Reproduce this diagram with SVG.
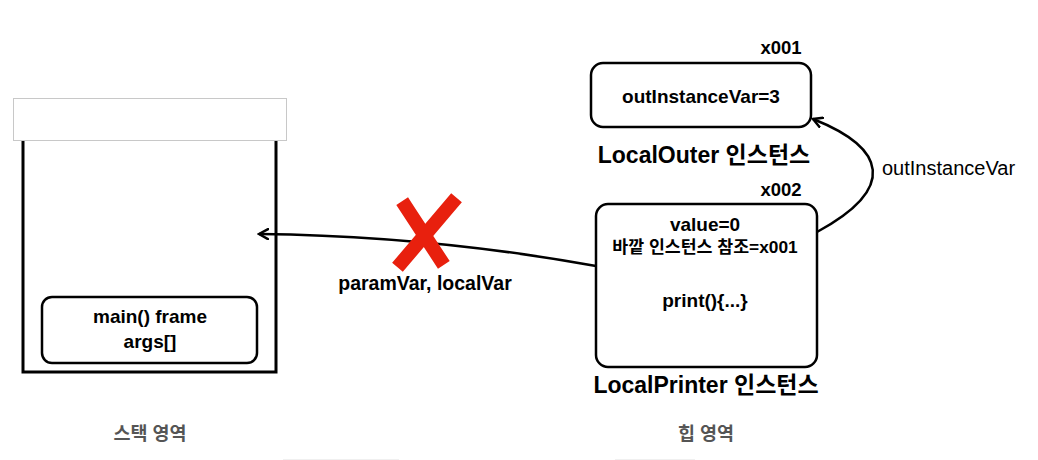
<svg xmlns="http://www.w3.org/2000/svg" width="1038" height="460" viewBox="0 0 1038 460">
<style>
text{font-family:"Liberation Sans",Arial,"Noto Sans CJK KR",sans-serif;fill:#000}
.b{font-weight:bold}
.box{fill:#fff;stroke:#000;stroke-width:2.5}
.con{fill:none;stroke:#000;stroke-width:2.5}
.area{font-size:18.5px;font-weight:bold;fill:#555}
</style>
<defs>
<marker id="arr" viewBox="0 0 12 12" refX="10" refY="6" markerWidth="12" markerHeight="12" markerUnits="userSpaceOnUse" orient="auto">
<path d="M1,1 L10,6 L1,11" fill="none" stroke="#000" stroke-width="2.5" stroke-linecap="round"/>
</marker>
</defs>
<rect width="1038" height="460" fill="#fff"/>
<g id="stack">
<rect x="13.5" y="98.5" width="273" height="42" fill="#fff" stroke="#c8c8c8" stroke-width="1"/>
<path d="M23,141 V372 H276 V141" fill="none" stroke="#000" stroke-width="3"/>
</g>
<g id="main-frame">
<rect class="box" x="42" y="297" width="215" height="66" rx="10"/>
<text x="150" y="323" font-size="19" text-anchor="middle" class="b">main() frame</text>
<text x="150" y="348" font-size="19" text-anchor="middle" class="b">args[]</text>
</g>
<g id="local-outer">
<text x="781" y="54" font-size="18.5" text-anchor="middle" class="b">x001</text>
<rect class="box" x="591" y="63" width="220" height="64" rx="12"/>
<text x="701" y="103" font-size="19" text-anchor="middle" class="b">outInstanceVar=3</text>
<text x="704" y="163" font-size="23" text-anchor="middle" class="b">LocalOuter 인스턴스</text>
</g>
<g id="local-printer">
<text x="781" y="196" font-size="18.5" text-anchor="middle" class="b">x002</text>
<rect class="box" x="596" y="204" width="221" height="163" rx="12"/>
<text x="705" y="231" font-size="19" text-anchor="middle" class="b">value=0</text>
<text x="705" y="253" font-size="17.3" text-anchor="middle" class="b">바깥 인스턴스 참조=x001</text>
<text x="705" y="307" font-size="19" text-anchor="middle" class="b">print(){...}</text>
<text x="706" y="393" font-size="23" text-anchor="middle" class="b">LocalPrinter 인스턴스</text>
</g>
<g id="connectors">
<path class="con" d="M596,266 Q430,236 259,234" marker-end="url(#arr)"/>
<path class="con" d="M817,232 C898,188 886,148 813,119" marker-end="url(#arr)"/>
<text x="882" y="175" font-size="20">outInstanceVar</text>
<text x="425" y="290" font-size="19.5" text-anchor="middle" class="b">paramVar, localVar</text>
</g>
<g id="cross" stroke="#e8200e" stroke-width="14" stroke-linecap="square">
<line x1="406" y1="207" x2="440" y2="259"/>
<line x1="452" y1="203" x2="402" y2="262"/>
</g>
<text x="150" y="440" class="area" text-anchor="middle">스택 영역</text>
<text x="706" y="440" class="area" text-anchor="middle">힙 영역</text>
<g stroke="#f0f0f0" stroke-width="1">
<line x1="283" y1="459.5" x2="399" y2="459.5"/>
<line x1="615" y1="459.5" x2="695" y2="459.5"/>
</g>
</svg>
